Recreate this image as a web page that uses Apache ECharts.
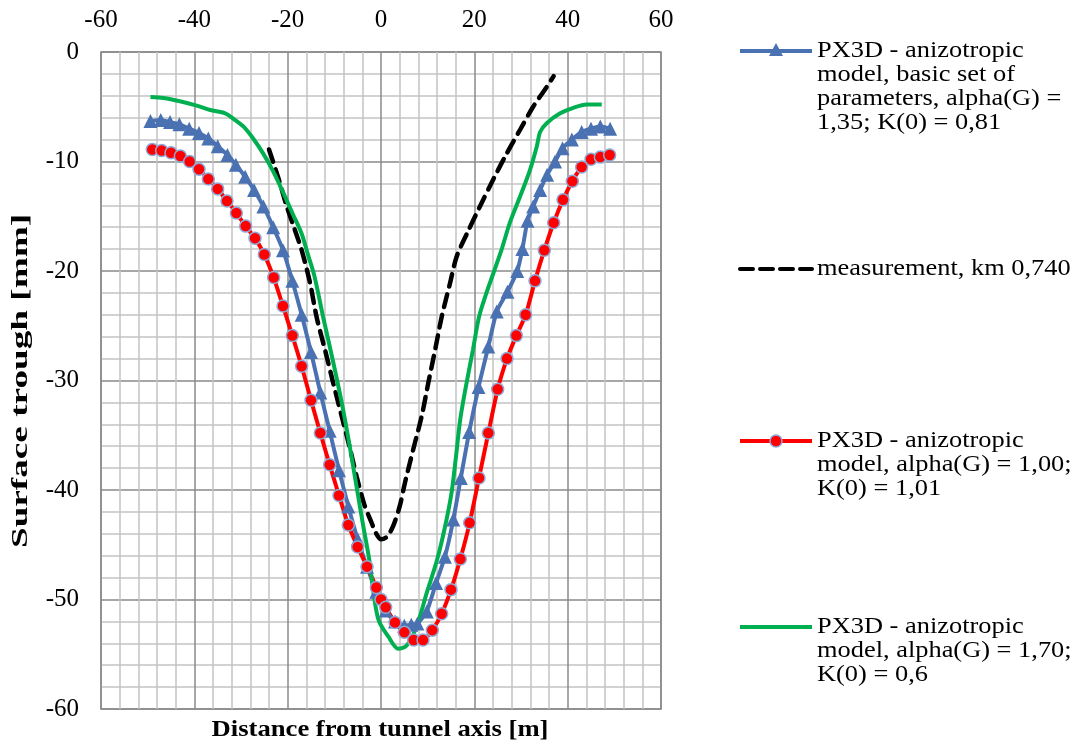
<!DOCTYPE html>
<html>
<head>
<meta charset="utf-8">
<script src="https://cdn.jsdelivr.net/npm/echarts@6/dist/echarts.min.js"></script>
<style>
  html, body { margin: 0; padding: 0; background: #ffffff; }
  #chart { width: 1082px; height: 747px; }
</style>
</head>
<body>
<div id="chart"></div>
<script>
// Surface settlement trough across the tunnel axis
var xTicks = { min: -60, max: 60, step: 20 };
var yTicks = { min: -60, max: 0, step: 10 };

var xTitle = 'Distance from tunnel axis [m]';
var yTitle = 'Surface trough [mm]';

var seriesNames = [
  'PX3D - anizotropic\nmodel, basic set of\nparameters, alpha(G) =\n1,35; K(0) = 0,81',
  'measurement, km 0,740',
  'PX3D - anizotropic\nmodel, alpha(G) = 1,00;\nK(0) = 1,01',
  'PX3D - anizotropic\nmodel, alpha(G) = 1,70;\nK(0) = 0,6'
];

// PX3D, basic parameter set
var basicX = [-49.4, -47.2, -45.2, -43.2, -41.1, -39, -37, -35, -32.9, -31.1, -29.1, -27.2, -25.2, -23.1, -21, -19, -17, -15, -13, -11, -9, -7, -5, -3, -1, 1, 3, 5, 6.5, 7.8, 9.8, 11.8, 13.7, 15.5, 17.1, 18.9, 20.9, 23, 24.8, 27.1, 29.2, 30.3, 31.4, 32.6, 34.1, 35.6, 37.3, 38.9, 40.9, 43, 45, 47, 49.1];
var basicY = [-6.3, -6.2, -6.4, -6.6, -7.0, -7.4, -7.9, -8.6, -9.4, -10.3, -11.4, -12.6, -14.1, -16.0, -18.1, -20.9, -24.0, -27.4, -31.1, -34.6, -38.2, -41.5, -44.5, -47.0, -49.3, -51.0, -52.0, -52.4, -52.3, -52.2, -51.1, -48.5, -46.1, -42.7, -38.9, -34.7, -30.6, -26.9, -23.7, -21.9, -20.0, -18.0, -15.4, -14.1, -12.6, -11.2, -10.0, -8.8, -8.0, -7.3, -7.0, -6.8, -7.0];

// Field measurement, km 0,740
var measX = [-24, -22, -20.2, -18.5, -17, -15.2, -13.8, -12, -10.2, -8.4, -6.6, -5.2, -3.6, -2.2, -1, 0, 1.2, 2.6, 4.0, 5.1, 6.9, 8.7, 10.1, 11.6, 13, 14.8, 16.2, 18.4, 21.2, 24.1, 26.9, 29.8, 32.6, 35.5, 37];
var measY = [-8.9, -11.5, -14.1, -16.2, -18.1, -21.1, -24.2, -27.2, -30.3, -33.3, -36.3, -38.8, -41.3, -42.8, -44.0, -44.5, -44.3, -43.3, -41.5, -39.4, -36.3, -33.3, -30.3, -27.2, -24.2, -21.1, -18.7, -16.6, -14.1, -11.6, -9.3, -7.1, -5.0, -3.2, -2.2];

// PX3D, alpha(G) = 1,00; K(0) = 1,01
var lowAlphaX = [-49, -47, -45, -43, -41, -39, -37, -35, -33, -31, -29, -27, -25, -23, -21, -19, -17, -15, -13, -11, -9, -7, -5, -3, -1, 0, 1, 3, 5, 7, 9, 11, 13, 15, 17, 19, 21, 23, 25, 27, 29, 31, 33, 35, 37, 39, 41, 43, 45, 47, 49];
var lowAlphaY = [-8.9, -9.0, -9.2, -9.5, -10.0, -10.7, -11.6, -12.5, -13.6, -14.7, -15.9, -17.0, -18.5, -20.6, -23.2, -25.9, -28.7, -31.8, -34.8, -37.7, -40.5, -43.2, -45.2, -47.0, -48.9, -50.0, -50.7, -52.1, -53.0, -53.7, -53.7, -52.8, -51.3, -49.1, -46.3, -43.0, -38.9, -34.8, -30.8, -28.0, -25.9, -24.0, -20.9, -18.1, -15.6, -13.5, -11.8, -10.5, -9.8, -9.6, -9.4];

// PX3D, alpha(G) = 1,70; K(0) = 0,6
var highAlphaX = [-49.4, -46.6, -43.1, -39.5, -36.6, -33.4, -31.6, -29.5, -27.4, -25.2, -23.1, -21, -19, -17, -15.8, -14.3, -12.4, -10.2, -8.1, -6.3, -5, -3.8, -2.5, -1.6, -0.5, 1.6, 3.7, 5.5, 7.6, 9.8, 12, 13.7, 15.1, 16, 17, 18.3, 19.7, 21, 22.6, 24, 25.8, 27.6, 29.8, 31.9, 33.4, 34.1, 35.5, 38.4, 41.2, 44.1, 47.3];
var highAlphaY = [-4.1, -4.2, -4.5, -4.9, -5.3, -5.6, -6.1, -6.8, -7.9, -9.3, -10.9, -12.8, -14.7, -16.6, -18.3, -20.4, -24.2, -28.4, -32.7, -37.0, -40.3, -43.3, -46.4, -49.4, -51.9, -53.4, -54.5, -54.2, -52.5, -49.4, -46.4, -43.4, -40.3, -37.2, -33.5, -30.3, -27.2, -24.2, -22.0, -20.3, -18.1, -15.6, -13.2, -10.8, -8.6, -7.3, -6.5, -5.6, -5.1, -4.8, -4.8];

var colors = ['#4a72b2', '#000000', '#ff0000', '#00b050'];

function pairs(xs, ys) {
  return xs.map(function (x, i) { return [x, ys[i]]; });
}

var serifFont = 'Liberation Serif';

var chart = echarts.init(document.getElementById('chart'), null, { renderer: 'canvas' });

// Legend drawn at the right: line sample, marker and wrapped label
var legendTops = [51, 269, 441, 627];
var graphics = [];
seriesNames.forEach(function (name, i) {
  var yy = legendTops[i];
  graphics.push({
    type: 'line',
    shape: { x1: 740, y1: yy, x2: 812, y2: yy },
    style: {
      stroke: colors[i],
      lineWidth: 4,
      lineDash: i === 1 ? [13, 7] : null,
      lineCap: i === 1 ? 'round' : 'butt'
    },
    silent: true
  });
  if (i === 0) {
    graphics.push({
      type: 'polygon',
      shape: { points: [[776, yy - 8], [769, yy + 5], [783, yy + 5]] },
      style: { fill: colors[0] },
      silent: true
    });
  }
  if (i === 2) {
    graphics.push({
      type: 'circle',
      shape: { cx: 776, cy: yy, r: 6 },
      style: { fill: colors[2], stroke: '#8ea9d8', lineWidth: 1.5 },
      silent: true
    });
  }
  graphics.push({
    type: 'text',
    x: 817,
    y: yy - 12,
    scaleX: 1.1,
    style: {
      text: name,
      font: '24px "' + serifFont + '"',
      lineHeight: 24,
      fill: '#000000',
      verticalAlign: 'top',
      align: 'left'
    },
    silent: true
  });
});

// Axis titles
graphics.push({
  type: 'text',
  x: 380,
  y: 730,
  scaleX: 1.11,
  style: {
    text: xTitle,
    font: 'bold 24px "' + serifFont + '"',
    fill: '#000000',
    align: 'center',
    verticalAlign: 'middle'
  },
  silent: true
});
graphics.push({
  type: 'text',
  x: 21,
  y: 381,
  rotation: Math.PI / 2,
  scaleX: 1.55,
  style: {
    text: yTitle,
    font: 'bold 24px "' + serifFont + '"',
    fill: '#000000',
    align: 'center',
    verticalAlign: 'middle'
  },
  silent: true
});

var option = {
  backgroundColor: '#ffffff',
  animation: false,
  grid: {
    left: 101, top: 52, width: 560, height: 657,
    show: true, borderColor: '#8a8a8a', borderWidth: 1.5, backgroundColor: 'transparent'
  },
  xAxis: {
    type: 'value',
    position: 'top',
    min: xTicks.min, max: xTicks.max, interval: xTicks.step,
    axisLine: { show: false },
    axisTick: { show: false },
    axisLabel: { color: '#000', fontFamily: serifFont, fontSize: 25, margin: 19 },
    splitLine: { show: true, lineStyle: { color: '#8a8a8a', width: 1.5 } },
    minorTick: { show: false, splitNumber: 5 },
    minorSplitLine: { show: true, lineStyle: { color: '#c4c4c4', width: 1.5 } }
  },
  yAxis: {
    type: 'value',
    min: yTicks.min, max: yTicks.max, interval: yTicks.step,
    axisLine: { show: false },
    axisTick: { show: false },
    axisLabel: { color: '#000', fontFamily: serifFont, fontSize: 25, margin: 22 },
    splitLine: { show: true, lineStyle: { color: '#8a8a8a', width: 1.5 } },
    minorTick: { show: false, splitNumber: 5 },
    minorSplitLine: { show: true, lineStyle: { color: '#c4c4c4', width: 1.5 } }
  },
  graphic: graphics,
  series: [
    {
      name: seriesNames[0],
      type: 'line',
      data: pairs(basicX, basicY),
      symbol: 'triangle',
      symbolSize: 14,
      showSymbol: true,
      lineStyle: { color: colors[0], width: 4 },
      itemStyle: { color: colors[0] },
      smooth: 0.2
    },
    {
      name: seriesNames[1],
      type: 'line',
      data: pairs(measX, measY),
      symbol: 'none',
      lineStyle: { color: colors[1], width: 4.5, type: [13, 8], cap: 'round' },
      smooth: 0.3
    },
    {
      name: seriesNames[2],
      type: 'line',
      data: pairs(lowAlphaX, lowAlphaY),
      symbol: 'circle',
      symbolSize: 12,
      showSymbol: true,
      lineStyle: { color: colors[2], width: 4 },
      itemStyle: { color: colors[2], borderColor: '#8ea9d8', borderWidth: 1.5 },
      smooth: 0.2
    },
    {
      name: seriesNames[3],
      type: 'line',
      data: pairs(highAlphaX, highAlphaY),
      symbol: 'none',
      lineStyle: { color: colors[3], width: 4 },
      smooth: 0.3
    }
  ]
};

chart.setOption(option);
</script>
</body>
</html>
